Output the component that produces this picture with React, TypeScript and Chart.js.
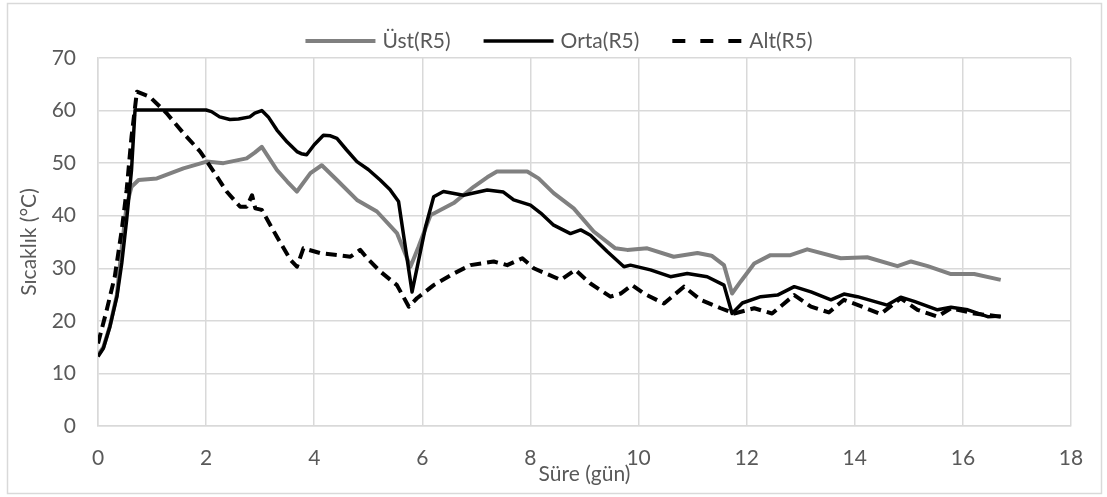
import { useEffect, useRef } from "react";
import { Chart, registerables } from "chart.js";

Chart.register(...registerables);

// Üst (upper) sensor
const ustDays = [0, 0.1, 0.22, 0.35, 0.44, 0.53, 0.62, 0.75, 1.09, 1.58, 2.01, 2.32, 2.75, 2.9, 3.03, 3.31, 3.5, 3.68, 3.93, 4.14, 4.42, 4.79, 5.16, 5.53, 5.78, 5.93, 6.15, 6.58, 6.95, 7.2, 7.38, 7.94, 8.15, 8.43, 8.8, 9.17, 9.57, 9.79, 10.16, 10.65, 11.09, 11.35, 11.58, 11.73, 11.89, 12.14, 12.44, 12.81, 13.12, 13.74, 14.23, 14.79, 15.04, 15.35, 15.78, 16.21, 16.7];
const ustTemps = [13.5, 15, 19, 25, 34, 42, 45.5, 46.8, 47.1, 49, 50.3, 50, 50.9, 52, 53.1, 48.7, 46.5, 44.6, 48.1, 49.6, 46.8, 43, 40.8, 36.7, 30.3, 34.1, 40.1, 42.4, 45.5, 47.3, 48.4, 48.4, 47.1, 44.3, 41.4, 37, 33.8, 33.5, 33.8, 32.2, 32.9, 32.4, 30.6, 25.2, 27.5, 30.9, 32.5, 32.5, 33.6, 31.9, 32.1, 30.4, 31.3, 30.4, 28.9, 28.9, 27.8];

// Orta (middle) sensor
const ortaDays = [0, 0.1, 0.22, 0.35, 0.44, 0.53, 0.62, 0.685, 1.0, 1.5, 2.0, 2.1, 2.25, 2.44, 2.6, 2.81, 2.9, 3.03, 3.15, 3.31, 3.5, 3.68, 3.76, 3.86, 4.0, 4.17, 4.3, 4.42, 4.6, 4.79, 5.0, 5.22, 5.4, 5.56, 5.81, 6.06, 6.21, 6.39, 6.76, 7.2, 7.5, 7.69, 8.0, 8.19, 8.43, 8.74, 8.93, 9.11, 9.42, 9.73, 9.85, 10.22, 10.59, 10.9, 11.27, 11.58, 11.73, 11.92, 12.26, 12.57, 12.88, 13.19, 13.56, 13.8, 14.05, 14.6, 14.85, 15.1, 15.53, 15.78, 16.09, 16.46, 16.7];
const ortaTemps = [13.2, 14.8, 18.9, 24.6, 31, 39.2, 48.7, 60.1, 60.1, 60.1, 60.1, 59.8, 58.8, 58.3, 58.4, 58.8, 59.5, 60.0, 58.8, 56.3, 54, 52.2, 51.8, 51.6, 53.5, 55.3, 55.2, 54.7, 52.5, 50.3, 48.8, 46.8, 45, 42.7, 25.5, 37.9, 43.6, 44.6, 43.9, 44.9, 44.5, 43.0, 42.0, 40.5, 38.2, 36.6, 37.3, 36.3, 33.2, 30.3, 30.6, 29.7, 28.4, 29.0, 28.4, 26.8, 21.4, 23.4, 24.6, 24.9, 26.5, 25.5, 24.0, 25.1, 24.6, 23.0, 24.5, 23.7, 22.1, 22.6, 22.1, 20.8, 20.9];

// Alt (lower) sensor
const altDays = [0, 0.16, 0.31, 0.44, 0.53, 0.62, 0.72, 0.96, 1.27, 1.58, 1.89, 2.14, 2.38, 2.63, 2.75, 2.85, 2.91, 3.03, 3.31, 3.56, 3.68, 3.8, 4.11, 4.67, 4.85, 4.98, 5.22, 5.53, 5.75, 5.9, 6.21, 6.58, 6.89, 7.32, 7.57, 7.85, 8.06, 8.56, 8.83, 9.11, 9.48, 9.67, 9.88, 10.1, 10.47, 10.84, 11.15, 11.52, 11.77, 12.14, 12.47, 12.88, 13.19, 13.52, 13.8, 14.11, 14.48, 14.85, 15.16, 15.53, 15.78, 16.21, 16.7];
const altTemps = [15.7, 22, 28.4, 37.3, 44.9, 55, 63.6, 62.6, 59.5, 55.7, 52.2, 48.4, 44.6, 41.7, 41.7, 43.9, 41.4, 41.1, 36, 31.6, 30.3, 33.8, 32.9, 32.2, 33.5, 31.9, 29.4, 26.8, 22.7, 24.3, 26.8, 29, 30.6, 31.3, 30.6, 31.9, 30, 27.8, 29.7, 27.1, 24.6, 25.2, 26.8, 25.2, 23.3, 26.5, 24, 22.4, 21.4, 22.4, 21.4, 24.9, 22.7, 21.6, 24, 22.8, 21.3, 24.3, 22.1, 20.8, 22.4, 21.4, 20.8];

const seriesLabels = ["Üst(R5)", "Orta(R5)", "Alt(R5)"];
const xAxisTitle = "Süre (gün)";
const yAxisTitle = "Sıcaklık (°C)";

const FONT = "Lato, 'Open Sans', sans-serif";
const FONT_SIZE = 21;
const TEXT_COLOR = "#595959";
const GRID_COLOR = "#d9d9d9";

const toPoints = (xs: number[], ys: number[]) => xs.map((x, i) => ({ x, y: ys[i] }));

// Outer frame plus a hand-drawn legend with long line samples
const frameAndLegend = {
  id: "frameAndLegend",
  beforeDraw(chart: any) {
    const { ctx, width, height } = chart;
    ctx.save();
    ctx.fillStyle = "#ffffff";
    ctx.fillRect(0, 0, width, height);
    ctx.strokeStyle = GRID_COLOR;
    ctx.lineWidth = 1.5;
    ctx.strokeRect(7.5, 3.5, 1094, 490);
    ctx.restore();
  },
  afterDraw(chart: any) {
    const { ctx } = chart;
    ctx.save();
    ctx.font = `${FONT_SIZE}px ${FONT}`;
    const lineLen = 70;
    const gap = 7;
    const spacing = 33;
    const items = chart.data.datasets.map((ds: any) => ({
      label: ds.label,
      color: ds.borderColor,
      width: ds.borderWidth,
      dash: ds.legendDash || [],
    }));
    const widths = items.map((it: any) => lineLen + gap + ctx.measureText(it.label).width);
    const total = widths.reduce((a: number, b: number) => a + b, 0) + spacing * (items.length - 1);
    let x = 559 - total / 2;
    const y = 41;
    items.forEach((it: any, i: number) => {
      ctx.beginPath();
      ctx.setLineDash(it.dash);
      ctx.lineCap = "butt";
      ctx.lineWidth = it.width;
      ctx.strokeStyle = it.color;
      ctx.moveTo(x, y);
      ctx.lineTo(x + lineLen, y);
      ctx.stroke();
      ctx.setLineDash([]);
      ctx.fillStyle = TEXT_COLOR;
      ctx.textBaseline = "middle";
      ctx.textAlign = "left";
      ctx.fillText(it.label, x + lineLen + gap, y);
      x += widths[i] + spacing;
    });
    ctx.restore();
  },
};

export default function App() {
  const canvasRef = useRef<HTMLCanvasElement | null>(null);

  useEffect(() => {
    if (!canvasRef.current) return;
    const chart = new Chart(canvasRef.current, {
      type: "scatter",
      data: {
        datasets: [
          {
            label: seriesLabels[0],
            data: toPoints(ustDays, ustTemps),
            showLine: true,
            borderColor: "#808080",
            backgroundColor: "#808080",
            borderWidth: 4,
            pointRadius: 0,
            borderJoinStyle: "round",
            order: 3,
          } as any,
          {
            label: seriesLabels[1],
            data: toPoints(ortaDays, ortaTemps),
            showLine: true,
            borderColor: "#000000",
            backgroundColor: "#000000",
            borderWidth: 3.5,
            pointRadius: 0,
            borderJoinStyle: "round",
            order: 2,
          } as any,
          {
            label: seriesLabels[2],
            data: toPoints(altDays, altTemps),
            showLine: true,
            borderColor: "#000000",
            backgroundColor: "#000000",
            borderWidth: 4,
            borderDash: [11, 6],
            legendDash: [13, 15],
            pointRadius: 0,
            borderJoinStyle: "round",
            order: 1,
          } as any,
        ],
      },
      options: {
        animation: false,
        responsive: false,
        maintainAspectRatio: false,
        layout: { padding: { left: 8, right: 36, top: 58, bottom: 10 } },
        plugins: {
          legend: { display: false },
          tooltip: { enabled: false },
        },
        scales: {
          x: {
            type: "linear",
            min: 0,
            max: 18,
            ticks: {
              stepSize: 2,
              color: TEXT_COLOR,
              font: { family: FONT, size: FONT_SIZE },
              padding: 20,
            },
            grid: { color: GRID_COLOR, lineWidth: 1.5, drawTicks: false },
            border: { color: GRID_COLOR, width: 1.5 },
            title: {
              display: true,
              text: xAxisTitle,
              color: TEXT_COLOR,
              font: { family: FONT, size: FONT_SIZE },
              padding: 0,
            },
            afterFit(scale: any) {
              scale.height = 61;
            },
          },
          y: {
            type: "linear",
            min: 0,
            max: 70,
            ticks: {
              stepSize: 10,
              color: TEXT_COLOR,
              font: { family: FONT, size: FONT_SIZE },
              padding: 22,
            },
            grid: { color: GRID_COLOR, lineWidth: 1.5, drawTicks: false },
            border: { color: GRID_COLOR, width: 1.5 },
            title: {
              display: true,
              text: yAxisTitle,
              color: TEXT_COLOR,
              font: { family: FONT, size: FONT_SIZE },
              padding: { top: 9, bottom: 0 },
            },
            afterFit(scale: any) {
              scale.width = 90;
            },
          },
        },
      },
      plugins: [frameAndLegend],
    });
    return () => chart.destroy();
  }, []);

  return (
    <div style={{ position: "absolute", left: 0, top: 0, width: 1107, height: 497 }}>
      <canvas ref={canvasRef} width={1107} height={497} style={{ display: "block" }} />
    </div>
  );
}
